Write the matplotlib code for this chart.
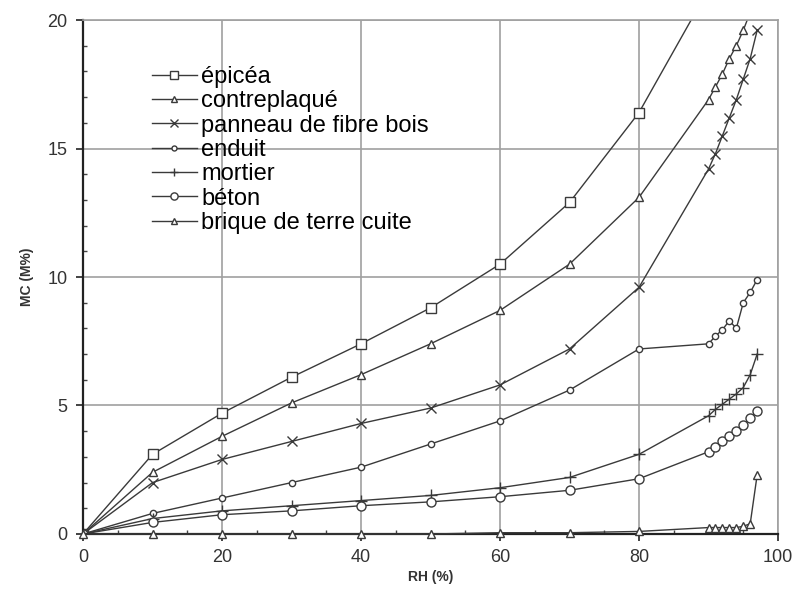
import matplotlib
matplotlib.use("Agg")
import matplotlib.pyplot as plt
from matplotlib.ticker import MultipleLocator

plt.rcParams['font.family'] = ['Liberation Sans', 'DejaVu Sans']

# RH (%) sample points
rh_low = [0, 10, 20, 30, 40, 50, 60, 70, 80]
rh_high = [90, 91, 92, 93, 94, 95, 96, 97]

epicea_rh = [0, 10, 20, 30, 40, 50, 60, 70, 80, 90]
epicea = [0, 3.1, 4.7, 6.1, 7.4, 8.8, 10.5, 12.9, 16.4, 21.2]

contre_rh = rh_low + [90, 91, 92, 93, 94, 95, 96, 97]
contre = [0, 2.4, 3.8, 5.1, 6.2, 7.4, 8.7, 10.5, 13.1,
          16.9, 17.4, 17.9, 18.5, 19.0, 19.6, 20.3, 21.0]

panneau = [0, 2.0, 2.9, 3.6, 4.3, 4.9, 5.8, 7.2, 9.6,
           14.2, 14.8, 15.5, 16.2, 16.9, 17.7, 18.5, 19.6]
enduit = [0, 0.8, 1.4, 2.0, 2.6, 3.5, 4.4, 5.6, 7.2,
          7.4, 7.7, 7.95, 8.3, 8.0, 9.0, 9.4, 9.9]
mortier = [0, 0.6, 0.9, 1.1, 1.3, 1.5, 1.8, 2.2, 3.1,
           4.6, 4.85, 5.05, 5.25, 5.45, 5.7, 6.2, 7.0]
beton = [0, 0.45, 0.75, 0.9, 1.1, 1.25, 1.45, 1.7, 2.15,
         3.2, 3.4, 3.6, 3.8, 4.0, 4.25, 4.5, 4.8]
brique = [0, 0, 0, 0, 0, 0, 0.05, 0.05, 0.1,
          0.25, 0.25, 0.25, 0.25, 0.25, 0.3, 0.4, 2.3]

labels = ['épicéa', 'contreplaqué', 'panneau de fibre bois', 'enduit',
          'mortier', 'béton', 'brique de terre cuite']

rh_all = rh_low + rh_high

fig = plt.figure(figsize=(7.93, 5.89), dpi=100)
ax = fig.add_axes([0.1047, 0.0934, 0.8764, 0.8726])

lc = '#3a3a3a'
common = dict(color=lc, lw=1.0, mfc='white', mec=lc, mew=1.0)

ax.plot(epicea_rh, epicea, marker='s', ms=7.5, label=labels[0], **common)
ax.plot(contre_rh, contre, marker='^', ms=6, label=labels[1], **common)
ax.plot(rh_all, panneau, marker='x', ms=7.5, label=labels[2], **common)
ax.plot(rh_all, enduit, marker='o', ms=4.5, label=labels[3], **common)
ax.plot(rh_all, mortier, marker='+', ms=8, label=labels[4], **common)
ax.plot(rh_all, beton, marker='o', ms=6.5, label=labels[5], **common)
# brique sits on the x axis, so keep its markers visible over the spine
ax.plot(rh_all, brique, marker='^', ms=6, label=labels[6], clip_on=False,
        zorder=4, **common)

ax.set_xlim(0, 100)
ax.set_ylim(0, 20)
ax.xaxis.set_major_locator(MultipleLocator(20))
ax.xaxis.set_minor_locator(MultipleLocator(5))
ax.yaxis.set_major_locator(MultipleLocator(5))
ax.yaxis.set_minor_locator(MultipleLocator(1))
ax.grid(True, which='major', color='#a0a0a0', lw=1.2)
ax.set_axisbelow(True)

for s in ['left', 'bottom']:
    ax.spines[s].set_color('#222222')
    ax.spines[s].set_linewidth(1.6)
for s in ['top', 'right']:
    ax.spines[s].set_color('#a0a0a0')
    ax.spines[s].set_linewidth(1.2)

ax.tick_params(which='major', direction='out', length=5, width=1.2,
               labelsize=13, colors='#222222', labelcolor='#333333', pad=6)
ax.tick_params(which='minor', direction='in', length=3, width=1.0, colors='#444444')
ax.tick_params(top=False, right=False, which='both')

ax.set_xlabel('RH (%)', fontsize=10, fontweight='bold', color='#333333', labelpad=3)
ax.set_ylabel('MC (M%)', fontsize=10, fontweight='bold', color='#333333', labelpad=10)

leg = ax.legend(loc='upper left', bbox_to_anchor=(0.075, 0.943), frameon=False,
                fontsize=17, handlelength=1.9, handletextpad=0.2, labelspacing=0.1,
                borderpad=0.2, markerscale=0.8)

fig.savefig('out.png', dpi=100)
